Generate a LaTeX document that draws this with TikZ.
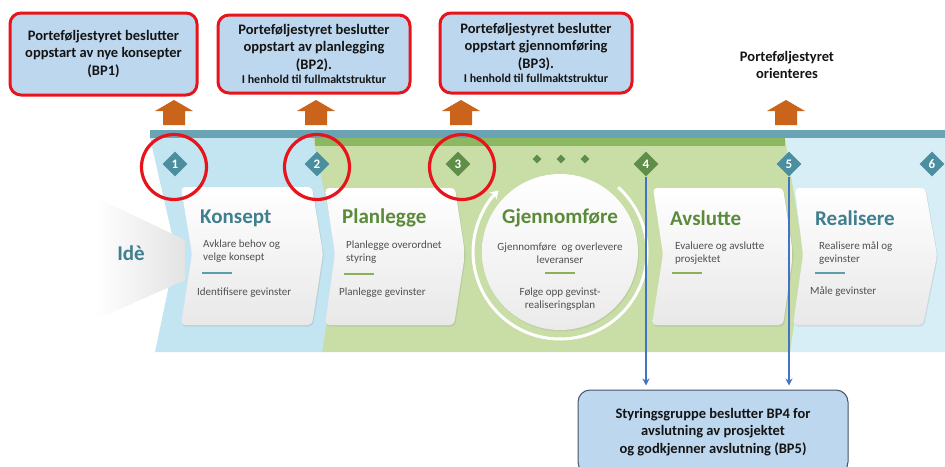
\documentclass[tikz,border=0pt]{standalone}
\usepackage{fontspec}
\setmainfont{Carlito}
\usetikzlibrary{shapes.geometric,arrows.meta,shadows}

\definecolor{tealbar}{HTML}{6AA3B4}
\definecolor{blueband}{HTML}{C3E4F1}
\definecolor{paleband}{HTML}{D8EEF7}
\definecolor{greenband}{HTML}{C8DEA6}
\definecolor{greenbar}{HTML}{8DB862}
\definecolor{tealtitle}{HTML}{3F7F8F}
\definecolor{greentitle}{HTML}{5A8A3A}
\definecolor{tealdia}{HTML}{4B8E9F}
\definecolor{greendia}{HTML}{5F8E48}
\definecolor{tealsep}{HTML}{5E9EAC}
\definecolor{greensep}{HTML}{8CB05A}
\definecolor{bodytext}{HTML}{505050}
\definecolor{boxblue}{HTML}{BDD7EE}
\definecolor{markred}{HTML}{E8141B}
\definecolor{uporange}{HTML}{C9641A}
\definecolor{linkblue}{HTML}{4472C4}
\definecolor{boxline}{HTML}{44546A}

\begin{document}
\begin{tikzpicture}[x=1pt,y=-1pt,
  bpbox/.style={rectangle, rounded corners=11pt, draw=markred, line width=3pt,
    fill=boxblue, align=center, inner sep=0pt, text=black!92,
    font=\fontsize{14.5}{17.5}\selectfont\bfseries},
  card/.style={rounded corners=4pt, top color=white, bottom color=black!9,
    drop shadow={opacity=0.18, shadow xshift=1pt, shadow yshift=-1.5pt}},
  dmd/.style={diamond, aspect=1, minimum size=25pt, inner sep=0pt, text=white,
    font=\fontsize{13}{13}\selectfont\bfseries},
  dot/.style={diamond, aspect=1, minimum size=9pt, inner sep=0pt, fill=greendia},
  redring/.style={circle, draw=markred, line width=3.2pt, minimum size=65pt, inner sep=0pt},
  title/.style={anchor=west, inner sep=0pt, font=\fontsize{21}{21}\selectfont\bfseries},
  body/.style={anchor=west, inner sep=0pt, align=left, text=bodytext,
    font=\fontsize{11}{13}\selectfont},
  cbody/.style={inner sep=0pt, align=center, text=bodytext,
    font=\fontsize{11}{12.5}\selectfont},
  septeal/.style={draw=tealsep, line width=1.6pt},
  sepgreen/.style={draw=greensep, line width=1.6pt},
  conn/.style={draw=linkblue, line width=1.5pt, shorten >=4pt,
    -{Stealth[length=7pt,width=7pt]}}
]
\useasboundingbox (0,0) rectangle (945,466);
\fill[white] (0,0) rectangle (945,466);

% phase bands
\fill[paleband] (780,138) -- (945,138) -- (945,352) -- (785,352) -- cycle;
\fill[greenband] (313,138) -- (785,138) -- (804,256) -- (790,352) -- (320,352) -- cycle;
\fill[blueband] (150,138) -- (313,138) -- (337,254) -- (322,352) -- (155,352) -- (176,252) -- cycle;
\fill[tealbar] (150,130) rectangle (945,138);
\fill[greenbar] (315,138) rectangle (785,146);

% idea arrow
\shade[left color=white, right color=black!11] (95,197) -- (185,240) -- (185,280) -- (95,320) -- cycle;
\node[font=\fontsize{21}{21}\selectfont\bfseries, text=tealtitle] (ide) at (131,253) {Idè};

% phase cards
\path[card] (181,187) -- (312,187) -- (323,254) -- (312,325) -- (181,325) -- (192,254) -- cycle;
\path[card] (325,188) -- (455,188) -- (465,254) -- (454,325) -- (325,325) -- (335,254) -- cycle;
\path[card] (653,188) -- (783,188) -- (793,254) -- (783,325) -- (652,325) -- (663,254) -- cycle;
\path[card] (795,188) -- (925,188) -- (937,255) -- (923,325) -- (793,325) -- (803,255) -- cycle;

% execution cycle
\draw[white, line width=3pt, -{Stealth[length=8pt,width=10pt]}]
  (560,252) ++(-48:87) arc[start angle=-48, end angle=225, radius=87];
\path[top color=white, bottom color=black!8,
  drop shadow={opacity=0.15, shadow xshift=1pt, shadow yshift=-1.5pt}]
  (560,252) circle[radius=78];

% Konsept
\node[title, text=tealtitle] (t1) at (200,218) {Konsept};
\node[body] (b1a) at (203,251.5) {Avklare behov og\\velge konsept};
\draw[septeal] (202,273) -- (232,273);
\node[body] (b1b) at (197,293) {Identifisere gevinster};

% Planlegge
\node[title, text=greentitle] (t2) at (342,218) {Planlegge};
\node[body] (b2a) at (346,252.5) {Planlegge overordnet\\styring};
\draw[sepgreen] (344,274) -- (374,274);
\node[body] (b2b) at (339,293) {Planlegge gevinster};

% Gjennomføre
\node[inner sep=0pt, font=\fontsize{21}{21}\selectfont\bfseries, text=greentitle] (t3) at (560,218) {Gjennomføre};
\node[cbody] (b3a) at (560,253) {Gjennomføre~ og overlevere\\leveranser};
\draw[sepgreen] (545,273) -- (575,273);
\node[cbody] (b3b) at (560,299) {Følge opp gevinst-\\realiseringsplan};

% Avslutte
\node[title, text=greentitle] (t4) at (670,218) {Avslutte};
\node[body] (b4a) at (675,253) {Evaluere og avslutte\\prosjektet};
\draw[sepgreen] (672,273) -- (702,273);

% Realisere
\node[title, text=tealtitle] (t5) at (815,218) {Realisere};
\node[body] (b5a) at (819,253) {Realisere mål og\\gevinster};
\draw[septeal] (815,273) -- (845,273);
\node[body] (b5b) at (810,292) {Måle gevinster};

% decision points
\node[dmd, fill=tealdia] (d1) at (175,164) {1};
\node[dmd, fill=tealdia] (d2) at (317,164) {2};
\node[dmd, fill=greendia] (d3) at (458,164) {3};
\node[dot] (s1) at (537,159) {};
\node[dot] (s2) at (561,159) {};
\node[dot] (s3) at (585,159) {};
\node[dmd, fill=greendia] (d4) at (646,164) {4};
\node[dmd, fill=tealdia] (d5) at (789,164) {5};
\node[dmd, fill=tealdia] (d6) at (932,164) {6};

% highlighted decision points
\node[redring] (r1) at (174,167) {};
\node[redring] (r2) at (317,167) {};
\node[redring] (r3) at (462,167) {};

% upward block arrows
\foreach \x in {174,316,461,786}
  \fill[uporange] (\x-11,125) -- (\x-11,111) -- (\x-19,111) -- (\x,100)
    -- (\x+19,111) -- (\x+11,111) -- (\x+11,125) -- cycle;

% portfolio board decisions
\node[bpbox, minimum width=187pt, minimum height=82pt] (bp1) at (103.5,54)
  {Porteføljestyret beslutter\\oppstart av nye konsepter\\(BP1)};
\node[bpbox, minimum width=192pt, minimum height=78pt] (bp2) at (314,54)
  {Porteføljestyret beslutter\\oppstart av planlegging\\(BP2).\\[-3pt]{\fontsize{12}{15}\selectfont I henhold til fullmaktstruktur}};
\node[bpbox, minimum width=192pt, minimum height=80pt] (bp3) at (536,53)
  {Porteføljestyret beslutter\\oppstart gjennomføring\\(BP3).\\[-3pt]{\fontsize{12}{15}\selectfont I henhold til fullmaktstruktur}};
\node[align=center, inner sep=0pt, text=black!92, font=\fontsize{14.5}{16.5}\selectfont\bfseries]
  (info) at (787,65) {Porteføljestyret\\orienteres};

% steering group decision
\node[rectangle, rounded corners=12pt, draw=boxline, line width=1pt, fill=boxblue,
  minimum width=270pt, minimum height=84pt, align=center, text=black!92,
  font=\fontsize{14.5}{17.5}\selectfont\bfseries] (sg) at (713,432)
  {Styringsgruppe beslutter BP4 for\\avslutning av prosjektet\\og godkjenner avslutning (BP5)};

\draw[conn] (d4.south) -- (d4.south |- sg.north);
\draw[conn] (d5.south) -- (d5.south |- sg.north);
\end{tikzpicture}
\end{document}
